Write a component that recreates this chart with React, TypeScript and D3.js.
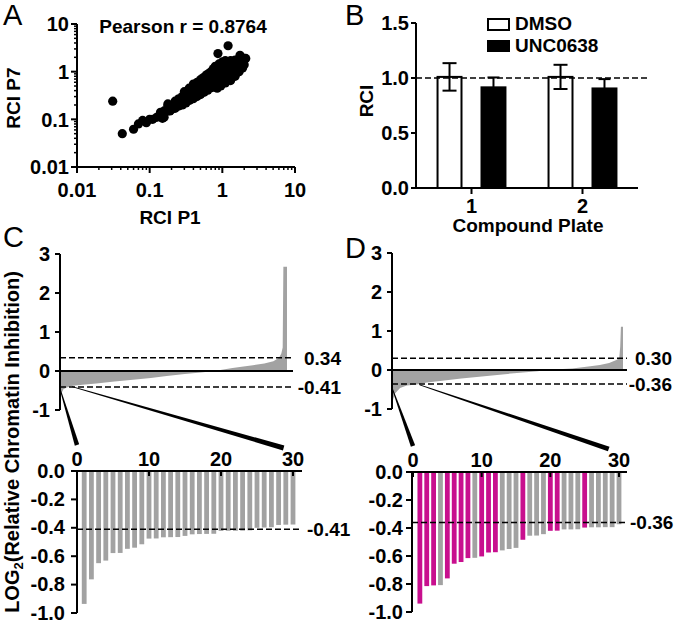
import React from "react";
import * as d3 from "d3";

const FONT = "Arial, 'Liberation Sans', Helvetica, sans-serif";
const GRAY = "#a2a2a2";
const MAGENTA = "#c80f8e";
const FS = 19;
const TFS = 20;

// ---------- Panel A data ----------
const scatterPoints: [number, number][] = [
  [0.031, 0.24], [0.042, 0.05], [0.06, 0.062], [0.07, 0.08], [0.08, 0.095], [0.09, 0.085], [0.1, 0.1], [0.11, 0.1], [0.125, 0.11], [0.15, 0.105],
  [0.141, 0.12], [0.141, 0.14], [0.158, 0.11], [0.158, 0.15], [0.178, 0.15], [0.178, 0.19], [0.178, 0.21], [0.2, 0.16], [0.2, 0.19],
  [0.224, 0.17], [0.224, 0.2], [0.224, 0.24], [0.251, 0.19], [0.251, 0.22], [0.251, 0.27], [0.282, 0.2], [0.282, 0.24], [0.282, 0.3],
  [0.316, 0.22], [0.316, 0.27], [0.316, 0.33], [0.355, 0.25], [0.355, 0.3], [0.355, 0.36],
  [0.398, 0.27], [0.398, 0.33], [0.398, 0.4], [0.398, 0.46],
  [0.447, 0.3], [0.447, 0.37], [0.447, 0.44], [0.447, 0.52],
  [0.501, 0.33], [0.501, 0.4], [0.501, 0.48], [0.501, 0.58],
  [0.562, 0.37], [0.562, 0.45], [0.562, 0.53], [0.562, 0.65],
  [0.631, 0.41], [0.631, 0.5], [0.631, 0.6], [0.631, 0.75],
  [0.708, 0.46], [0.708, 0.56], [0.708, 0.68], [0.708, 0.85],
  [0.794, 0.5], [0.794, 0.62], [0.794, 0.75], [0.794, 0.95], [0.794, 1.1],
  [0.891, 0.55], [0.891, 0.68], [0.891, 0.82], [0.891, 1.0], [0.891, 1.2],
  [1.0, 0.6], [1.0, 0.74], [1.0, 0.9], [1.0, 1.1], [1.0, 1.3],
  [1.12, 0.66], [1.12, 0.82], [1.12, 1.0], [1.12, 1.2], [1.12, 1.45],
  [1.26, 0.75], [1.26, 0.92], [1.26, 1.1], [1.26, 1.35],
  [1.41, 0.88], [1.41, 1.05], [1.41, 1.25], [1.41, 1.5],
  [1.58, 1.0], [1.58, 1.2], [1.58, 1.45],
  [1.78, 1.15], [1.78, 1.4], [1.78, 1.7],
  [2.0, 1.4], [2.0, 1.9],
  [0.87, 2.4], [1.2, 3.5], [1.75, 2.2], [2.1, 1.9],
  [0.19, 0.15], [0.27, 0.26], [0.34, 0.28], [0.43, 0.41], [0.53, 0.5], [0.6, 0.55], [0.67, 0.62],
  [0.75, 0.7], [0.84, 0.78], [0.95, 0.85], [1.06, 0.95], [1.18, 1.05], [1.33, 1.15], [1.5, 1.3], [1.68, 1.55],
  [0.6, 0.85], [0.7, 1.0], [0.8, 1.3], [0.9, 1.45], [1.0, 1.6], [1.1, 1.7], [1.3, 1.7], [0.55, 0.75], [0.5, 0.68],
  [0.45, 0.6], [0.4, 0.55], [1.5, 1.75], [0.85, 0.45], [0.95, 0.5], [1.1, 0.58], [1.3, 0.65], [1.5, 0.8], [1.7, 1.0],
  [1.9, 1.2], [0.35, 0.45], [0.3, 0.38], [0.65, 0.92], [0.75, 1.15], [1.2, 1.55], [1.6, 1.65],
];
const logMajor = [0.01, 0.1, 1, 10];
const logMajorLabels = ["0.01", "0.1", "1", "10"];
const pearsonText = "Pearson r = 0.8764";

// ---------- Panel B data ----------
const plates = ["1", "2"];
const treatments = ["DMSO", "UNC0638"];
const dmsoMean = [1.01, 1.01];
const dmsoSd = [0.125, 0.11];
const uncMean = [0.915, 0.905];
const uncSd = [0.09, 0.085];
const bTicks = [0, 0.5, 1.0, 1.5];
const bTickLabels = ["0.0", "0.5", "1.0", "1.5"];

// ---------- Panels C/D top (ranked waterfall) ----------
const topTicks = [3, 2, 1, 0, -1];
const topTickLabels = ["3", "2", "1", "0", "-1"];
const cRankPct = [0, 0.3, 0.8, 1.5, 3, 5.7, 10, 16, 24, 31, 40, 47, 55, 62, 66, 68, 72, 76, 80, 85, 90, 94, 96.5, 97.5, 98.1, 98.4, 100];
const cRankVal = [-0.94, -0.7, -0.55, -0.47, -0.42, -0.38, -0.35, -0.32, -0.27, -0.23, -0.18, -0.13, -0.08, -0.04, -0.01, 0, 0.04, 0.08, 0.11, 0.15, 0.19, 0.25, 0.34, 0.45, 0.6, 2.67, 2.67];
const dRankPct = [0, 0.5, 1.3, 3.5, 6.4, 10.7, 15, 20.8, 30, 40, 50, 58, 63, 67, 72, 78, 85, 90, 94, 97.4, 98.4, 98.8, 99.1, 100];
const dRankVal = [-0.94, -0.75, -0.6, -0.46, -0.4, -0.37, -0.32, -0.28, -0.22, -0.16, -0.1, -0.06, -0.03, 0, 0.02, 0.04, 0.09, 0.13, 0.18, 0.26, 0.32, 0.6, 1.11, 1.11];
const cThresholds = [0.34, -0.41];
const cThresholdLabels = ["0.34", "-0.41"];
const dThresholds = [0.3, -0.36];
const dThresholdLabels = ["0.30", "-0.36"];

// ---------- Panels C/D bottom (top 30) ----------
const cTop30 = [-0.936, -0.763, -0.649, -0.631, -0.578, -0.577, -0.548, -0.54, -0.516, -0.476, -0.475, -0.467, -0.466, -0.465, -0.457,
  -0.446, -0.444, -0.443, -0.442, -0.422, -0.421, -0.421, -0.42, -0.418, -0.4, -0.398, -0.396, -0.38, -0.378, -0.377];
const dTop30 = [-0.94, -0.815, -0.81, -0.808, -0.76, -0.655, -0.643, -0.615, -0.613, -0.603, -0.575, -0.573, -0.56, -0.55, -0.542,
  -0.484, -0.455, -0.454, -0.444, -0.42, -0.419, -0.41, -0.41, -0.409, -0.397, -0.395, -0.395, -0.394, -0.394, -0.373];
const dHighlight = [1, 1, 1, 0, 1, 1, 1, 1, 0, 1, 1, 1, 0, 0, 0, 1, 0, 0, 0, 1, 1, 0, 0, 0, 1, 0, 0, 0, 0, 0];
const botXTicks = [0, 10, 20, 30];
const botXLabels = ["0", "10", "20", "30"];
const botYTicks = [0, -0.2, -0.4, -0.6, -0.8, -1.0];
const botYLabels = ["0.0", "-0.2", "-0.4", "-0.6", "-0.8", "-1.0"];

const txt = { fontFamily: FONT, fontWeight: 700 as const, fill: "#000" };

function LeftAxis(props: {
  x: number; scale: (v: number) => number; ticks: number[]; labels: string[];
  top: number; bottom: number; tickLen?: number; gap?: number; minor?: number[]; fs?: number; dy?: string;
}) {
  const { x, scale, ticks, labels, top, bottom, tickLen = 5, gap = 4, minor = [], fs = TFS, dy = "0.36em" } = props;
  return (
    <g>
      <line x1={x} x2={x} y1={top} y2={bottom} stroke="#000" strokeWidth={2} />
      {minor.map((t, i) => (
        <line key={"m" + i} x1={x - 3} x2={x} y1={scale(t)} y2={scale(t)} stroke="#000" strokeWidth={1.5} />
      ))}
      {ticks.map((t, i) => (
        <g key={i}>
          <line x1={x - tickLen} x2={x} y1={scale(t)} y2={scale(t)} stroke="#000" strokeWidth={2} />
          <text x={x - tickLen - gap} y={scale(t)} dy={dy} textAnchor="end" fontSize={fs} {...txt}>{labels[i]}</text>
        </g>
      ))}
    </g>
  );
}

function wedgePath(x1: number, y1: number, x2: number, y2: number, w1: number, w2: number) {
  const dx = x2 - x1, dy = y2 - y1, L = Math.hypot(dx, dy);
  const nx = -dy / L, ny = dx / L;
  return `M${x1 + nx * w1 / 2},${y1 + ny * w1 / 2}L${x2 + nx * w2 / 2},${y2 + ny * w2 / 2}L${x2 - nx * w2 / 2},${y2 - ny * w2 / 2}L${x1 - nx * w1 / 2},${y1 - ny * w1 / 2}Z`;
}

function PanelA() {
  const x = d3.scaleLog().domain([0.01, 10]).range([77, 295]);
  const y = d3.scaleLog().domain([0.01, 10]).range([167, 24]);
  const minor: number[] = [];
  logMajor.slice(0, 3).forEach((m) => { for (let k = 2; k <= 9; k++) minor.push(m * k); });
  return (
    <g>
      <text x={3} y={25} fontSize={29} fontFamily={FONT}>A</text>
      {scatterPoints.map((p, i) => (
        <circle key={i} cx={x(p[0])} cy={y(p[1])} r={4.6} fill="#000" />
      ))}
      <LeftAxis x={77} scale={y} ticks={logMajor} labels={logMajorLabels} top={24} bottom={167} tickLen={6} gap={2} minor={minor} />
      <line x1={77} x2={295} y1={167} y2={167} stroke="#000" strokeWidth={2} />
      {minor.map((t, i) => (
        <line key={i} x1={x(t)} x2={x(t)} y1={167} y2={170} stroke="#000" strokeWidth={1.5} />
      ))}
      {logMajor.map((t, i) => (
        <g key={i}>
          <line x1={x(t)} x2={x(t)} y1={167} y2={173} stroke="#000" strokeWidth={2} />
          <text x={x(t)} y={197} textAnchor="middle" fontSize={TFS} {...txt}>{logMajorLabels[i]}</text>
        </g>
      ))}
      <text x={183} y={33} textAnchor="middle" fontSize={FS} {...txt}>{pearsonText}</text>
      <text x={170} y={224} textAnchor="middle" fontSize={FS} {...txt}>RCI P1</text>
      <text transform="translate(20,98) rotate(-90)" textAnchor="middle" fontSize={FS} {...txt}>RCI P7</text>
    </g>
  );
}

function PanelB() {
  const x = d3.scaleBand().domain(plates).range([416, 638]);
  const inner = d3.scaleBand().domain(treatments).range([0, x.bandwidth()]).paddingInner(0.455).paddingOuter(0.49);
  const y = d3.scaleLinear().domain([0, 1.5]).range([188, 23]);
  const bw = inner.bandwidth();
  const series = [
    { name: treatments[0], mean: dmsoMean, sd: dmsoSd, fill: "#fff", cap: 14 },
    { name: treatments[1], mean: uncMean, sd: uncSd, fill: "#000", cap: 12 },
  ];
  return (
    <g>
      <text x={345} y={25} fontSize={29} fontFamily={FONT}>B</text>
      {series.map((s) => plates.map((p, i) => {
        const bx = (x(p) as number) + (inner(s.name) as number);
        const cx = bx + bw / 2;
        return (
          <g key={s.name + p}>
            <rect x={bx} y={y(s.mean[i])} width={bw} height={y(0) - y(s.mean[i])} fill={s.fill} stroke="#000" strokeWidth={2} />
            <line x1={cx} x2={cx} y1={y(s.mean[i] - s.sd[i])} y2={y(s.mean[i] + s.sd[i])} stroke="#000" strokeWidth={2} />
            <line x1={cx - s.cap / 2} x2={cx + s.cap / 2} y1={y(s.mean[i] + s.sd[i])} y2={y(s.mean[i] + s.sd[i])} stroke="#000" strokeWidth={2} />
            <line x1={cx - s.cap / 2} x2={cx + s.cap / 2} y1={y(s.mean[i] - s.sd[i])} y2={y(s.mean[i] - s.sd[i])} stroke="#000" strokeWidth={2} />
          </g>
        );
      }))}
      <line x1={416} x2={647} y1={y(1)} y2={y(1)} stroke="#000" strokeWidth={1.6} strokeDasharray="6 3" />
      <LeftAxis x={416} scale={y} ticks={bTicks} labels={bTickLabels} top={23} bottom={188} tickLen={5} gap={2} />
      <line x1={416} x2={638} y1={188} y2={188} stroke="#000" strokeWidth={2} />
      {plates.map((p) => {
        const cx = (x(p) as number) + x.bandwidth() / 2;
        return (
          <g key={p}>
            <line x1={cx} x2={cx} y1={188} y2={194} stroke="#000" strokeWidth={2} />
            <text x={cx} y={213} textAnchor="middle" fontSize={TFS} {...txt}>{p}</text>
          </g>
        );
      })}
      <text x={528} y={232} textAnchor="middle" fontSize={FS} {...txt}>Compound Plate</text>
      <text transform="translate(373,101) rotate(-90)" textAnchor="middle" fontSize={FS} {...txt}>RCI</text>
      <rect x={488} y={19} width={21} height={11} fill="#fff" stroke="#000" strokeWidth={2} />
      <text x={515} y={30} fontSize={FS} {...txt}>{treatments[0]}</text>
      <rect x={487} y={40} width={23} height={12} fill="#000" />
      <text x={515} y={52} fontSize={FS} {...txt}>{treatments[1]}</text>
    </g>
  );
}

function RankPanel(props: {
  letter: string; letterX: number; letterY: number;
  axisX: number; plotRight: number; lineRight: number; labelEnd: number; zeroY: number;
  pct: number[]; vals: number[]; thresholds: number[]; thresholdLabels: string[];
  botAxisX: number; botX0: number; botX30: number; botY0: number; botY1: number; botLineRight: number;
  top30: number[]; highlight: number[] | null; botLabelX: number; wedgeTopPct: number; wedgeTopVal: number; wedgeBotIdx: number;
  botTickLabelEnd: number;
}) {
  const p = props;
  const xT = d3.scaleLinear().domain([0, 100]).range([p.axisX, p.plotRight]);
  const yT = d3.scaleLinear().domain([-1, 3]).range([p.zeroY + 39, p.zeroY - 117]);
  const area = d3.area<number>()
    .x((_, i) => xT(p.pct[i]))
    .y0(yT(0))
    .y1((d) => yT(d));
  const xB = d3.scaleLinear().domain([0, 30]).range([p.botX0, p.botX30]);
  const yB = d3.scaleLinear().domain([-1, 0]).range([p.botY1, p.botY0]);
  const wedgeL = wedgePath(xT(0), yT(-0.45), xB(0), yB(0) - 26, 0.8, 4.5);
  const wedgeR = wedgePath(xT(p.wedgeTopPct), yT(p.wedgeTopVal), xB(p.wedgeBotIdx), yB(0) - 23, 0.8, 5);
  return (
    <g>
      <text x={p.letterX} y={p.letterY} fontSize={29} fontFamily={FONT}>{p.letter}</text>
      <path d={area(p.vals) || ""} fill={GRAY} />
      {p.thresholds.map((t, i) => (
        <g key={i}>
          <line x1={p.axisX} x2={p.lineRight} y1={yT(t)} y2={yT(t)} stroke="#000" strokeWidth={1.5} strokeDasharray="6 3" />
          <text x={p.labelEnd} y={yT(t)} dy="0.36em" textAnchor="end" fontSize={FS} {...txt}>{p.thresholdLabels[i]}</text>
        </g>
      ))}
      <line x1={p.axisX} x2={p.lineRight} y1={yT(0)} y2={yT(0)} stroke="#000" strokeWidth={2.2} />
      <LeftAxis x={p.axisX} scale={yT} ticks={topTicks} labels={topTickLabels} top={yT(3)} bottom={yT(-1)} tickLen={5} gap={5} />
      <path d={wedgeL} fill="#000" />
      <path d={wedgeR} fill="#000" />
      {p.top30.map((v, i) => (
        <rect key={i} x={xB(i + 1) - 2.4} y={yB(0)} width={4.8} height={yB(v) - yB(0)}
          fill={p.highlight && p.highlight[i] ? MAGENTA : GRAY} />
      ))}
      <line x1={p.botAxisX} x2={p.botLineRight} y1={yB(p.thresholds[1])} y2={yB(p.thresholds[1])} stroke="#000" strokeWidth={1.5} strokeDasharray="6 3" />
      <text x={p.botLabelX} y={yB(p.thresholds[1])} dy="0.36em" fontSize={FS} {...txt}>{p.thresholdLabels[1]}</text>
      <LeftAxis x={p.botAxisX} scale={yB} ticks={botYTicks} labels={botYLabels} top={yB(0)} bottom={yB(-1)} tickLen={6} gap={p.botTickLabelEnd} dy="0.33em" />
      <line x1={p.botAxisX} x2={p.botLineRight} y1={yB(0)} y2={yB(0)} stroke="#000" strokeWidth={2} />
      {botXTicks.map((t, i) => (
        <g key={i}>
          <line x1={xB(t)} x2={xB(t)} y1={yB(0) - 1} y2={yB(0) + 5} stroke="#000" strokeWidth={2} />
          <text x={xB(t)} y={yB(0) - 5} textAnchor="middle" fontSize={TFS} {...txt}>{botXLabels[i]}</text>
        </g>
      ))}
    </g>
  );
}

export default function App() {
  return (
    <svg width={674} height={624} viewBox="0 0 674 624"
      style={{ position: "absolute", left: 0, top: 0, background: "#fff" }}>
      <rect x={0} y={0} width={674} height={624} fill="#fff" />
      <PanelA />
      <PanelB />
      <RankPanel letter="C" letterX={3} letterY={247} axisX={60} plotRight={287} lineRight={293} labelEnd={341} zeroY={371}
        pct={cRankPct} vals={cRankVal} thresholds={cThresholds} thresholdLabels={cThresholdLabels}
        botAxisX={77} botX0={77} botX30={293} botY0={471} botY1={613} botLineRight={302}
        top30={cTop30} highlight={null} botLabelX={307} wedgeTopPct={5.3} wedgeTopVal={-0.4} wedgeBotIdx={28.7} botTickLabelEnd={6} />
      <RankPanel letter="D" letterX={345} letterY={258} axisX={392} plotRight={623} lineRight={627} labelEnd={672} zeroY={370}
        pct={dRankPct} vals={dRankVal} thresholds={dThresholds} thresholdLabels={dThresholdLabels}
        botAxisX={412} botX0={413} botX30={619} botY0={472} botY1={612} botLineRight={627}
        top30={dTop30} highlight={dHighlight} botLabelX={630} wedgeTopPct={12} wedgeTopVal={-0.38} wedgeBotIdx={28.5} botTickLabelEnd={3} />
      <text transform="translate(19,442) rotate(-90)" textAnchor="middle" fontSize={20} {...txt}>
        LOG<tspan fontSize={13} dy={4}>2</tspan><tspan dy={-4}>(Relative Chromatin Inhibition)</tspan>
      </text>
    </svg>
  );
}
